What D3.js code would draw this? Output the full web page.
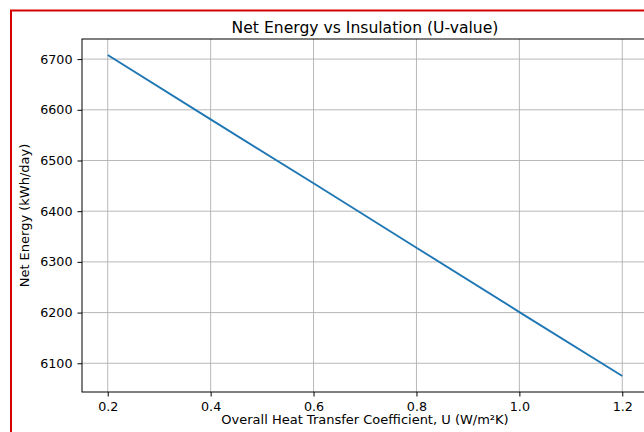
<!DOCTYPE html>
<html>
<head>
<meta charset="utf-8">
<script src="https://cdn.jsdelivr.net/npm/d3@7"></script>
<style>
  body { margin: 0; background: #fff; }
  text { font-family: "DejaVu Sans", sans-serif; fill: #000; }
  .grid line { stroke: #b0b0b0; stroke-width: 0.9; }
</style>
</head>
<body>
<svg id="chart"></svg>
<script>
const uValues = [0.2, 0.4, 0.6, 0.8, 1.0, 1.2];
const netEnergy = [6708, 6581, 6455, 6328, 6201, 6075];
const xTicks = [0.2, 0.4, 0.6, 0.8, 1.0, 1.2];
const yTicks = [6100, 6200, 6300, 6400, 6500, 6600, 6700];

const w = 644, h = 432;
const margins = {left: 82, right: -4, top: 39, bottom: 40};

const svg = d3.select('#chart')
  .attr('width', w)
  .attr('height', h);

svg.append('rect')
  .attr('width', w).attr('height', h)
  .attr('fill', '#fff');

// matplotlib style 5% padding around the data
const xExt = d3.extent(uValues), yExt = d3.extent(netEnergy);
const xPad = (xExt[1] - xExt[0]) * 0.05, yPad = (yExt[1] - yExt[0]) * 0.05;

const xScale = d3.scaleLinear()
  .domain([xExt[0] - xPad, xExt[1] + xPad])
  .range([margins.left, w - margins.right]);

const yScale = d3.scaleLinear()
  .domain([yExt[0] - yPad, yExt[1] + yPad])
  .range([h - margins.bottom, margins.top]);

// grid
svg.append('g').attr('class', 'grid')
  .selectAll('line').data(xTicks).join('line')
  .attr('x1', d => xScale(d)).attr('x2', d => xScale(d))
  .attr('y1', margins.top).attr('y2', h - margins.bottom);

svg.append('g').attr('class', 'grid')
  .selectAll('line').data(yTicks).join('line')
  .attr('x1', margins.left).attr('x2', w - margins.right)
  .attr('y1', d => yScale(d)).attr('y2', d => yScale(d));

// line
const line = d3.line()
  .x((d, i) => xScale(uValues[i]))
  .y(d => yScale(d));

svg.append('path')
  .datum(netEnergy)
  .attr('d', line)
  .attr('fill', 'none')
  .attr('stroke', '#1f77b4')
  .attr('stroke-width', 1.9);

// frame
svg.append('rect')
  .attr('x', margins.left).attr('y', margins.top)
  .attr('width', w - margins.right - margins.left)
  .attr('height', h - margins.bottom - margins.top)
  .attr('fill', 'none').attr('stroke', '#000').attr('stroke-width', 1);

// axes
const xAxisGroup = svg.append('g')
  .attr('transform', `translate(0, ${h - margins.bottom})`)
  .call(d3.axisBottom(xScale).tickValues(xTicks).tickFormat(d3.format('.1f')).tickSize(4.5).tickPadding(5));

const yAxisGroup = svg.append('g')
  .attr('transform', `translate(${margins.left}, 0)`)
  .call(d3.axisLeft(yScale).tickValues(yTicks).tickFormat(d3.format('d')).tickSize(4.5).tickPadding(5));

[xAxisGroup, yAxisGroup].forEach(g => {
  g.select('.domain').remove();
  g.selectAll('.tick line').attr('stroke', '#000');
  g.selectAll('.tick text').attr('font-size', 12.7).attr('font-family', 'DejaVu Sans').attr('fill', '#1a1a1a');
});

// title and labels
svg.append('text')
  .attr('x', (margins.left + w - margins.right) / 2)
  .attr('y', 32.5)
  .attr('text-anchor', 'middle')
  .attr('font-size', 15.6)
  .attr('fill', '#1a1a1a')
  .text('Net Energy vs Insulation (U-value)');

svg.append('text')
  .attr('x', (margins.left + w - margins.right) / 2)
  .attr('y', 424)
  .attr('text-anchor', 'middle')
  .attr('font-size', 13)
  .attr('fill', '#1a1a1a')
  .text('Overall Heat Transfer Coefficient, U (W/m²K)');

svg.append('text')
  .attr('transform', `translate(${29}, ${(margins.top + h - margins.bottom) / 2}) rotate(-90)`)
  .attr('text-anchor', 'middle')
  .attr('font-size', 13)
  .attr('fill', '#1a1a1a')
  .text('Net Energy (kWh/day)');

// red outer border
svg.append('rect')
  .attr('x', 11).attr('y', 10.5)
  .attr('width', w + 20).attr('height', h + 20)
  .attr('fill', 'none')
  .attr('stroke', '#d40000')
  .attr('stroke-width', 2);
</script>
</body>
</html>
